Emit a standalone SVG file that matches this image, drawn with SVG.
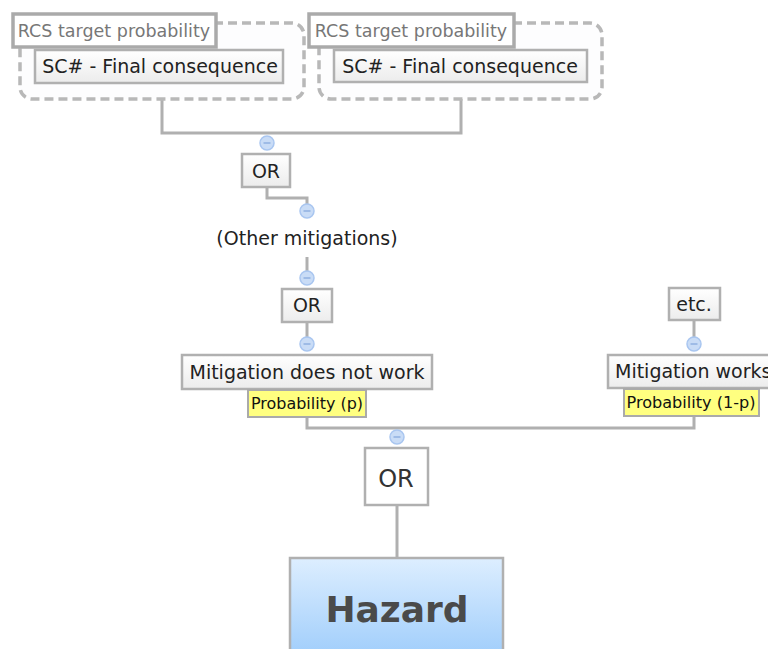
<svg xmlns="http://www.w3.org/2000/svg" width="768" height="649" viewBox="0 0 768 649">
  <defs>
    <linearGradient id="boxFill" x1="0" y1="0" x2="0" y2="1">
      <stop offset="0" stop-color="#ffffff"/>
      <stop offset="1" stop-color="#ececec"/>
    </linearGradient>
    <linearGradient id="hazardFill" x1="0" y1="0" x2="0" y2="1">
      <stop offset="0" stop-color="#ddeeff"/>
      <stop offset="1" stop-color="#9fcdfb"/>
    </linearGradient>
    <g id="collapse">
      <circle r="7" fill="#c9dcf6" stroke="#a9c6f0" stroke-width="1.5"/>
      <line x1="-3.5" y1="0" x2="3.5" y2="0" stroke="#8fb0e0" stroke-width="1.5"/>
    </g>
  </defs>
  <style>
    text { font-family: "DejaVu Sans", Verdana, sans-serif; text-anchor: middle; }
    .box { fill: url(#boxFill); stroke: #b0b0b0; stroke-width: 2.5; }
    .plain { fill: #ffffff; stroke: #b0b0b0; stroke-width: 2.5; }
    .label { fill: #ffffff; stroke: #aaaaaa; stroke-width: 3.5; }
    .group { fill: #fdfdfe; stroke: #b8b8b8; stroke-width: 3.5; stroke-dasharray: 9 5; }
    .prob { fill: #ffff80; stroke: #aaaaaa; stroke-width: 2; }
    .conn { fill: none; stroke: #b0b0b0; stroke-width: 3; }
    .t { font-size: 19px; fill: #222; }
    .tl { font-size: 17.5px; fill: #777; }
    .tp { font-size: 15px; fill: #111; }
  </style>

  <g id="connectors">
    <polyline class="conn" points="162,83 162,133 461,133 461,83"/>
    <polyline class="conn" points="267,187 267,198 307,198 307,205"/>
    <line class="conn" x1="307" y1="257" x2="307" y2="272"/>
    <line class="conn" x1="307" y1="322" x2="307" y2="340"/>
    <line class="conn" x1="694" y1="320" x2="694" y2="340"/>
    <polyline class="conn" points="307,417 307,428 694,428 694,416"/>
    <line class="conn" x1="397" y1="505" x2="397" y2="558"/>
  </g>

  <g id="group1">
    <rect class="group" x="20" y="23" width="284" height="76" rx="12"/>
    <rect class="label" x="13" y="14" width="203" height="33"/>
    <text class="tl" x="114" y="37">RCS target probability</text>
  </g>
  <g id="consequence1">
    <rect class="box" x="35" y="50" width="248" height="33"/>
    <text class="t" x="160" y="73">SC# - Final consequence</text>
  </g>

  <g id="group2">
    <rect class="group" x="319" y="23" width="283" height="76" rx="12"/>
    <rect class="label" x="309" y="14" width="205" height="33"/>
    <text class="tl" x="411" y="37">RCS target probability</text>
  </g>
  <g id="consequence2">
    <rect class="box" x="334" y="50" width="253" height="32"/>
    <text class="t" x="460" y="73">SC# - Final consequence</text>
  </g>

  <use href="#collapse" x="267" y="143"/>
  <g id="or1">
    <rect class="box" x="242" y="154" width="48" height="33"/>
    <text class="t" x="266" y="178">OR</text>
  </g>

  <use href="#collapse" x="307" y="211"/>
  <g id="other-mitigations">
    <text class="t" x="307" y="245">(Other mitigations)</text>
  </g>

  <use href="#collapse" x="307" y="278"/>
  <g id="or2">
    <rect class="box" x="282" y="289" width="50" height="33"/>
    <text class="t" x="307" y="312">OR</text>
  </g>

  <use href="#collapse" x="307" y="344"/>
  <g id="mitigation-fails">
    <rect class="box" x="182" y="355" width="250" height="34"/>
    <text class="t" x="307" y="379">Mitigation does not work</text>
    <rect class="prob" x="248" y="390" width="118" height="27"/>
    <text class="tp" x="307" y="409" textLength="112" lengthAdjust="spacingAndGlyphs">Probability (p)</text>
  </g>

  <g id="etc">
    <rect class="box" x="669" y="288" width="51" height="32"/>
    <text class="t" x="694" y="311">etc.</text>
  </g>
  <use href="#collapse" x="694" y="344"/>
  <g id="mitigation-works">
    <rect class="box" x="608" y="355" width="175" height="33"/>
    <text class="t" x="615" y="378" style="text-anchor:start">Mitigation works</text>
    <rect class="prob" x="624" y="389" width="135" height="27"/>
    <text class="tp" x="691" y="408" textLength="129" lengthAdjust="spacingAndGlyphs">Probability (1-p)</text>
  </g>

  <use href="#collapse" x="397" y="437"/>
  <g id="or3">
    <rect class="plain" x="365" y="448" width="63" height="57"/>
    <text x="396" y="487" style="font-size:24px;fill:#333">OR</text>
  </g>

  <g id="hazard">
    <rect x="290" y="558" width="213" height="100" fill="url(#hazardFill)" stroke="#b0b0b0" stroke-width="2.5"/>
    <text x="397" y="622" style="font-size:36px;font-weight:bold;fill:#4a4a4a">Hazard</text>
  </g>
</svg>
